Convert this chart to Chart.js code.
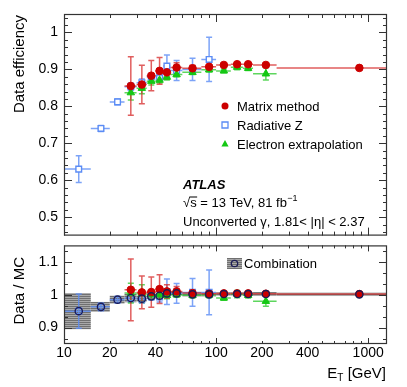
<!DOCTYPE html>
<html>
<head>
<meta charset="utf-8">
<script src="https://cdn.jsdelivr.net/npm/chart.js@4.4.1/dist/chart.umd.min.js"></script>
<style>
  body { margin: 0; background: #fff; }
  #wrap { position: relative; width: 407px; height: 387px; }
  #effCanvas { position: absolute; left: 0; top: 0; }
  #ratioCanvas { position: absolute; left: 0; top: 240px; }
</style>
</head>
<body>
<div id="wrap">
  <canvas id="effCanvas" width="407" height="241"></canvas>
  <canvas id="ratioCanvas" width="407" height="147"></canvas>
</div>
<script>
// ---- datos ----
// Matrix method
const mmX   = [27.5, 32.5, 37.5, 42.5, 47.5, 55, 70, 90, 112.5, 137.5, 162.5, 212.5, 875];
const mmLo  = [25, 30, 35, 40, 45, 50, 60, 80, 100, 125, 150, 175, 250];
const mmHi  = [30, 35, 40, 45, 50, 60, 80, 100, 125, 150, 175, 250, 1500];
const mmEff = [0.855, 0.859, 0.883, 0.896, 0.892, 0.905, 0.903, 0.907, 0.912, 0.914, 0.914, 0.912, 0.904];
const mmErr = [0.079, 0.052, 0.041, 0.036, 0.018, 0.013, 0.008, 0.006, 0.005, 0.005, 0.005, 0.005, 0.004];
const mmRatio = [1.015, 1.007, 1.008, 1.017, 1.010, 1.010, 1.005, 1.003, 1.004, 1.004, 1.004, 1.003, 1.002];
const mmRatioErr = [0.094, 0.050, 0.046, 0.044, 0.020, 0.015, 0.008, 0.006, 0.005, 0.005, 0.005, 0.005, 0.004];

// Radiative Z
const rzX   = [12.5, 17.5, 22.5, 27.5, 32.5, 37.5, 42.5, 47.5, 55, 70, 90];
const rzLo  = [10, 15, 20, 25, 30, 35, 40, 45, 50, 60, 80];
const rzHi  = [15, 20, 25, 30, 35, 40, 45, 50, 60, 80, 100];
const rzEff = [0.630, 0.740, 0.812, 0.853, 0.864, 0.880, 0.877, 0.909, 0.897, 0.900, 0.927];
const rzErr = [0.036, 0.008, 0.008, 0.010, 0.010, 0.008, 0.010, 0.030, 0.027, 0.030, 0.060];
const rzRatio = [0.950, 0.963, 0.985, 0.990, 0.986, 0.994, 0.993, 1.009, 1.004, 1.007, 1.007];
const rzRatioErr = [0.052, 0.012, 0.010, 0.013, 0.012, 0.010, 0.015, 0.039, 0.030, 0.042, 0.068];

// Electron extrapolation
const eeX   = [27.5, 32.5, 37.5, 42.5, 47.5, 55, 70, 90, 112.5, 137.5, 162.5, 212.5];
const eeLo  = [25, 30, 35, 40, 45, 50, 60, 80, 100, 125, 150, 175];
const eeHi  = [30, 35, 40, 45, 50, 60, 80, 100, 125, 150, 175, 250];
const eeEff = [0.837, 0.849, 0.868, 0.871, 0.879, 0.886, 0.892, 0.899, 0.896, 0.906, 0.903, 0.888];
const eeErr = [0.020, 0.015, 0.010, 0.008, 0.008, 0.006, 0.006, 0.006, 0.005, 0.007, 0.006, 0.017];
const eeRatio = [1.005, 1.003, 1.000, 1.000, 0.998, 1.000, 0.998, 0.999, 0.990, 1.002, 0.998, 0.980];
const eeRatioErr = [0.030, 0.027, 0.012, 0.010, 0.010, 0.008, 0.008, 0.008, 0.007, 0.011, 0.008, 0.015];

// Combination
const combX   = [12.5, 17.5, 22.5, 27.5, 32.5, 37.5, 42.5, 47.5, 55, 70, 90, 112.5, 137.5, 162.5, 212.5, 875];
const combLo  = [10, 15, 20, 25, 30, 35, 40, 45, 50, 60, 80, 100, 125, 150, 175, 250];
const combHi  = [15, 20, 25, 30, 35, 40, 45, 50, 60, 80, 100, 125, 150, 175, 250, 1500];
const combRatio = [0.950, 0.963, 0.985, 0.990, 0.988, 0.995, 0.997, 1.004, 1.004, 1.001, 1.001, 1.002, 1.002, 1.002, 1.002, 1.001];
const combErr   = [0.055, 0.015, 0.012, 0.013, 0.009, 0.008, 0.007, 0.007, 0.006, 0.006, 0.006, 0.005, 0.005, 0.005, 0.006, 0.005];

// ejes
const xTicks = [10, 20, 40, 100, 200, 400, 1000];
const effTicks = [0.5, 0.6, 0.7, 0.8, 0.9, 1.0];
const ratioTicks = [0.9, 1.0, 1.1];

const FONT = "'Liberation Sans', Arial, Helvetica, sans-serif";
const RED = '#cc0000', BLUE = '#5b8cf5', GREEN = '#14c814', NAVY = '#1c1c55';

function pts(xs, ys) {
    return xs.map((v, i) => ({ x: v, y: ys[i] }));
}

// patron gris rayado para la banda de combinacion
const bandPattern = (function () {
    const c = document.createElement('canvas');
    c.width = 4; c.height = 2;
    const g = c.getContext('2d');
    g.fillStyle = '#a9a9a9'; g.fillRect(0, 0, 4, 2);
    g.fillStyle = '#707070'; g.fillRect(0, 0, 4, 1);
    return g.createPattern(c, 'repeat');
})();

// barras de error (y banda) antes de dibujar los marcadores
const errorBars = {
    id: 'errorBars',
    beforeDatasetsDraw(chart) {
        const { ctx, chartArea: a, scales: { x, y } } = chart;
        ctx.save();
        ctx.beginPath();
        ctx.rect(a.left, a.top, a.right - a.left, a.bottom - a.top);
        ctx.clip();

        const band = chart.options.plugins.errorBars.band;
        if (band) {
            ctx.fillStyle = bandPattern;
            band.lo.forEach((lo, i) => {
                const x0 = x.getPixelForValue(lo), x1 = x.getPixelForValue(band.hi[i]);
                const y0 = y.getPixelForValue(band.val[i] + band.err[i]);
                const y1 = y.getPixelForValue(band.val[i] - band.err[i]);
                ctx.fillRect(x0, y0, x1 - x0, y1 - y0);
            });
        }

        const sets = chart.data.datasets.slice().sort((p, q) => q.order - p.order);
        sets.forEach(ds => {
            if (!ds.yErr) return;
            ctx.strokeStyle = ds.errColor;
            ctx.lineWidth = 1.5;
            ds.data.forEach((p, i) => {
                const px = x.getPixelForValue(p.x);
                const py = y.getPixelForValue(p.y);
                const xl = x.getPixelForValue(ds.xLo[i]), xh = x.getPixelForValue(ds.xHi[i]);
                const yt = y.getPixelForValue(p.y + ds.yErr[i]), yb = y.getPixelForValue(p.y - ds.yErr[i]);
                ctx.beginPath();
                ctx.moveTo(xl, py); ctx.lineTo(xh, py);
                ctx.moveTo(px, yt); ctx.lineTo(px, yb);
                ctx.moveTo(px - 3, yt); ctx.lineTo(px + 3, yt);
                ctx.moveTo(px - 3, yb); ctx.lineTo(px + 3, yb);
                ctx.stroke();
            });
        });
        ctx.restore();
    }
};

// marco estilo ROOT con ticks hacia dentro
function drawFrame(chart, minorStep, yMajLen, xMajLen) {
    const { ctx, chartArea: a, scales: { x, y } } = chart;
    ctx.save();
    ctx.strokeStyle = '#333';
    ctx.lineWidth = 1;
    ctx.beginPath();
    // ticks eje y (izquierda y derecha)
    const yMin = y.min, yMax = y.max;
    for (let v = Math.ceil(yMin / minorStep - 1e-6) * minorStep; v <= yMax + 1e-9; v += minorStep) {
        const py = Math.round(y.getPixelForValue(v)) + 0.5;
        const isMajor = y.ticks.some(t => Math.abs(t.value - v) < 1e-6);
        const len = isMajor ? yMajLen : yMajLen / 2;
        ctx.moveTo(a.left, py); ctx.lineTo(a.left + len, py);
        ctx.moveTo(a.right, py); ctx.lineTo(a.right - len, py);
    }
    // ticks eje x log (arriba y abajo)
    for (let dec = 10; dec <= 1000; dec *= 10) {
        for (let k = 1; k <= 9; k++) {
            const v = dec * k;
            if (v < x.min || v > x.max) continue;
            const px = Math.round(x.getPixelForValue(v)) + 0.5;
            const len = k === 1 ? xMajLen : xMajLen / 2;
            ctx.moveTo(px, a.bottom); ctx.lineTo(px, a.bottom - len);
            ctx.moveTo(px, a.top); ctx.lineTo(px, a.top + len);
        }
    }
    ctx.stroke();
    ctx.lineWidth = 1.2;
    ctx.strokeRect(a.left + 0.5, a.top + 0.5, a.right - a.left - 1, a.bottom - a.top - 1);
    ctx.restore();
}

function yTitle(ctx, text, x, yTop) {
    ctx.save();
    ctx.translate(x, yTop);
    ctx.rotate(-Math.PI / 2);
    ctx.font = '15px ' + FONT;
    ctx.fillStyle = '#000';
    ctx.textAlign = 'right';
    ctx.textBaseline = 'alphabetic';
    ctx.fillText(text, 0, 0);
    ctx.restore();
}

function marker(ctx, type, cx, cy) {
    ctx.save();
    ctx.lineWidth = 1.3;
    ctx.beginPath();
    if (type === 'circle') {
        ctx.fillStyle = RED;
        ctx.arc(cx, cy, 3.5, 0, Math.PI * 2);
        ctx.fill();
    } else if (type === 'rect') {
        ctx.strokeStyle = BLUE;
        ctx.rect(cx - 3, cy - 3, 6, 6);
        ctx.stroke();
    } else {
        ctx.fillStyle = GREEN;
        ctx.moveTo(cx, cy - 4); ctx.lineTo(cx + 3.6, cy + 2.6); ctx.lineTo(cx - 3.6, cy + 2.6);
        ctx.closePath();
        ctx.fill();
    }
    ctx.restore();
}

const effDecor = {
    id: 'effDecor',
    afterDatasetsDraw(chart) {
        drawFrame(chart, 0.02, 8, 8);
        const ctx = chart.ctx;
        yTitle(ctx, 'Data efficiency', 24, 15);

        ctx.save();
        ctx.fillStyle = '#000';
        ctx.font = '13px ' + FONT;
        const legend = [['circle', 'Matrix method', 106], ['rect', 'Radiative Z', 125], ['tri', 'Electron extrapolation', 144]];
        legend.forEach(l => {
            marker(ctx, l[0], 225, l[2]);
            ctx.fillText(l[1], 237, l[2] + 4.7);
        });

        ctx.font = 'italic bold 13px ' + FONT;
        ctx.fillText('ATLAS', 183, 188.5);

        ctx.font = '13px ' + FONT;
        let xx = 183;
        ctx.fillText('\u221A', xx, 206.5);
        xx += ctx.measureText('\u221A').width;
        const sw = ctx.measureText('s').width;
        ctx.fillText('s', xx, 206.5);
        ctx.fillRect(xx - 0.5, 196.5, sw + 1, 1);
        xx += sw;
        const txt = ' = 13 TeV, 81 fb';
        ctx.fillText(txt, xx, 206.5);
        xx += ctx.measureText(txt).width;
        ctx.font = '9px ' + FONT;
        ctx.fillText('\u22121', xx + 0.5, 200.5);

        ctx.font = '13px ' + FONT;
        ctx.fillText('Unconverted \u03B3, 1.81< |\u03B7| < 2.37', 183, 225.7);
        ctx.restore();
    }
};

const ratioDecor = {
    id: 'ratioDecor',
    afterDatasetsDraw(chart) {
        drawFrame(chart, 0.1 / 3, 8, 6);
        const ctx = chart.ctx;
        yTitle(ctx, 'Data / MC', 24, 17);

        ctx.save();
        // leyenda combinacion
        ctx.fillStyle = bandPattern;
        ctx.fillRect(227, 18, 15, 11);
        ctx.strokeStyle = NAVY;
        ctx.lineWidth = 1.3;
        ctx.beginPath();
        ctx.arc(234.5, 23.5, 3.2, 0, Math.PI * 2);
        ctx.stroke();
        ctx.fillStyle = '#000';
        ctx.font = '13px ' + FONT;
        ctx.fillText('Combination', 244, 28);

        // titulo eje x: E_T [GeV]
        ctx.font = '15px ' + FONT;
        const rest = ' [GeV]';
        const wE = ctx.measureText('E').width;
        const wR = ctx.measureText(rest).width;
        ctx.font = '10px ' + FONT;
        const wT = ctx.measureText('T').width;
        let x0 = 386 - (wE + wT + wR);
        ctx.font = '15px ' + FONT;
        ctx.fillText('E', x0, 138);
        ctx.font = '10px ' + FONT;
        ctx.fillText('T', x0 + wE, 141);
        ctx.font = '15px ' + FONT;
        ctx.fillText(rest, x0 + wE + wT, 138);
        ctx.restore();
    }
};

function xAxis(showLabels) {
    return {
        type: 'logarithmic',
        min: 10,
        max: 1330,
        grid: { display: false, drawTicks: false },
        border: { display: false },
        afterBuildTicks: s => { s.ticks = xTicks.map(v => ({ value: v })); },
        afterFit: s => {
            s.height = showLabels ? 43 : 0;
            s.paddingLeft = 0; s.paddingRight = 0;
        },
        ticks: {
            display: showLabels,
            autoSkip: false,
            maxRotation: 0,
            padding: 1,
            color: '#000',
            font: { family: FONT, size: 14 },
            callback: v => String(v)
        }
    };
}

function yAxis(min, max, tickVals) {
    return {
        min: min,
        max: max,
        grid: { display: false, drawTicks: false },
        border: { display: false },
        afterBuildTicks: s => { s.ticks = tickVals.map(v => ({ value: v })); },
        afterFit: s => {
            s.width = 64;
            s.paddingTop = 0; s.paddingBottom = 0;
        },
        ticks: {
            padding: 6,
            color: '#000',
            font: { family: FONT, size: 14 },
            callback: v => (Math.abs(v - 1) < 1e-9 ? '1' : v.toFixed(1))
        }
    };
}

const commonOpts = {
    responsive: false,
    animation: false,
    devicePixelRatio: 1,
    events: []
};

new Chart(document.getElementById('effCanvas').getContext('2d'), {
    type: 'scatter',
    data: {
        datasets: [
            {
                label: 'Matrix method', data: pts(mmX, mmEff), order: 0,
                pointStyle: 'circle', pointRadius: 3.8, backgroundColor: RED, borderColor: RED, borderWidth: 1,
                xLo: mmLo, xHi: mmHi, yErr: mmErr, errColor: 'rgba(214,40,40,0.75)'
            },
            {
                label: 'Electron extrapolation', data: pts(eeX, eeEff), order: 1,
                pointStyle: 'triangle', pointRadius: 4.3, backgroundColor: GREEN, borderColor: GREEN, borderWidth: 1,
                xLo: eeLo, xHi: eeHi, yErr: eeErr, errColor: 'rgba(40,200,40,0.75)'
            },
            {
                label: 'Radiative Z', data: pts(rzX, rzEff), order: 2,
                pointStyle: 'rect', pointRadius: 4, backgroundColor: '#fff', borderColor: BLUE, borderWidth: 1.4,
                xLo: rzLo, xHi: rzHi, yErr: rzErr, errColor: 'rgba(91,140,245,0.8)'
            }
        ]
    },
    options: Object.assign({}, commonOpts, {
        layout: { padding: { top: 14, right: 20, left: 0, bottom: 1 } },
        scales: { x: xAxis(false), y: yAxis(0.45, 1.05, effTicks) },
        plugins: { legend: { display: false }, tooltip: { enabled: false }, errorBars: {} }
    }),
    plugins: [errorBars, effDecor]
});

new Chart(document.getElementById('ratioCanvas').getContext('2d'), {
    type: 'scatter',
    data: {
        datasets: [
            {
                label: 'Combination', data: pts(combX, combRatio), order: 0,
                pointStyle: 'circle', pointRadius: 3.6, backgroundColor: 'rgba(0,0,0,0)', borderColor: NAVY, borderWidth: 1.4
            },
            {
                label: 'Matrix method', data: pts(mmX, mmRatio), order: 1,
                pointStyle: 'circle', pointRadius: 3.8, backgroundColor: RED, borderColor: RED, borderWidth: 1,
                xLo: mmLo, xHi: mmHi, yErr: mmRatioErr, errColor: 'rgba(214,40,40,0.75)'
            },
            {
                label: 'Electron extrapolation', data: pts(eeX, eeRatio), order: 2,
                pointStyle: 'triangle', pointRadius: 4.3, backgroundColor: GREEN, borderColor: GREEN, borderWidth: 1,
                xLo: eeLo, xHi: eeHi, yErr: eeRatioErr, errColor: 'rgba(40,200,40,0.75)'
            },
            {
                label: 'Radiative Z', data: pts(rzX, rzRatio), order: 3,
                pointStyle: 'rect', pointRadius: 4, backgroundColor: 'rgba(0,0,0,0)', borderColor: BLUE, borderWidth: 1.4,
                xLo: rzLo, xHi: rzHi, yErr: rzRatioErr, errColor: 'rgba(91,140,245,0.8)'
            }
        ]
    },
    options: Object.assign({}, commonOpts, {
        layout: { padding: { top: 5, right: 20, left: 0, bottom: 0 } },
        scales: { x: xAxis(true), y: yAxis(0.85, 1.15, ratioTicks) },
        plugins: {
            legend: { display: false }, tooltip: { enabled: false },
            errorBars: { band: { lo: combLo, hi: combHi, val: combRatio, err: combErr } }
        }
    }),
    plugins: [errorBars, ratioDecor]
});
</script>
</body>
</html>
